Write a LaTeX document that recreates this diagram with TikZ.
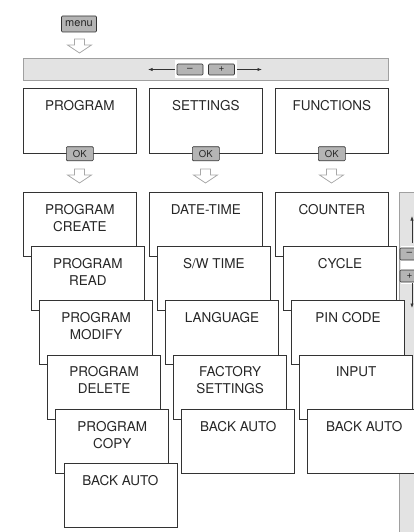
\documentclass[tikz,border=0pt]{standalone}
\usepackage{fontspec}
\setmainfont{TeX Gyre Heros}
\usetikzlibrary{arrows.meta}
\definecolor{lineC}{HTML}{333333}
\definecolor{btnfill}{HTML}{B4B4B4}
\definecolor{barfill}{HTML}{E3E3E3}
\definecolor{barline}{HTML}{A0A0A0}
\definecolor{arrowC}{HTML}{A8A8A8}
\newcommand\hollowdown[2]{%
  \draw[hollowarrow] (#1-5,#2) -- (#1+5,#2) -- (#1+5,#2+6) -- (#1+12,#2+6)
    -- (#1,#2+14) -- (#1-12,#2+6) -- (#1-5,#2+6) -- cycle;}
\begin{document}
\begin{tikzpicture}[x=1pt,y=-1pt,
  boxnode/.style={draw=lineC, line width=0.7pt, fill=white, minimum width=113pt,
    minimum height=64pt, anchor=north west, inner sep=0pt},
  lbl/.style={anchor=north, inner sep=0pt, align=center, text=black!85,
    font=\fontsize{13.5}{17}\selectfont},
  btn/.style={draw=lineC, fill=btnfill, rounded corners=1pt, inner sep=0pt,
    line width=0.6pt, text=black!85},
  hollowarrow/.style={draw=arrowC, fill=white, line width=0.7pt, line join=miter},
  tinyarrow/.style={-{Latex[length=4.5pt,width=3.2pt]}, draw=lineC, line width=0.6pt},
  grayband/.style={draw=barline, fill=barfill, line width=0.6pt, inner sep=0pt}]
\useasboundingbox (0,0) rectangle (414,532);

% menu button and arrow
\node[btn, minimum width=35pt, minimum height=16pt, font=\fontsize{11}{11}\selectfont] (menu) at (79,24) {menu};
\hollowdown{79.5}{39}

% top bar
\node[grayband, minimum width=365pt, minimum height=22pt] (bar) at (205.5,69) {};
\node[fill=white, inner sep=0pt, minimum width=62pt, minimum height=18pt] (btnbg) at (206,69.5) {};
\node[btn, minimum width=26pt, minimum height=11pt, font=\fontsize{10}{10}\selectfont] (minus) at (190,69.5) {–};
\node[btn, minimum width=26pt, minimum height=11pt, font=\fontsize{10}{10}\selectfont] (plus) at (221.5,69.5) {+};
\coordinate (lefttip) at (148,69.5);
\coordinate (righttip) at (262,69.5);
\draw[tinyarrow] (btnbg.west) -- (lefttip);
\draw[tinyarrow] (btnbg.east) -- (righttip);

% top boxes
\node[boxnode, minimum height=65pt] (prog) at (23,88) {};
\node[lbl] (progT) at ([yshift=-12pt]prog.north) {PROGRAM};
\node[boxnode, minimum height=65pt] (sett) at (149,88) {};
\node[lbl] (settT) at ([yshift=-12pt]sett.north) {SETTINGS};
\node[boxnode, minimum height=65pt] (func) at (275,88) {};
\node[lbl] (funcT) at ([yshift=-12pt]func.north) {FUNCTIONS};
\foreach \n in {prog,sett,func}{
  \node[btn, minimum width=27pt, minimum height=14pt, font=\fontsize{9.5}{9.5}\selectfont] (ok\n) at (\n.south) {OK};
}
\hollowdown{79.5}{169}
\hollowdown{205.5}{169}
\hollowdown{331.5}{169}

% right side panel
\node[grayband, minimum width=30pt, minimum height=400pt, anchor=north west] (panel) at (399,192) {};
\node[fill=white, inner sep=0pt, minimum width=28pt, minimum height=38pt, anchor=north west] (pbg) at (400.5,246) {};
\node[btn, minimum width=26pt, minimum height=12pt] (pminus) at (413,254) {};
\node[btn, minimum width=26pt, minimum height=12pt] (pplus) at (413,276) {};
\node[inner sep=0pt, text=black!85, font=\fontsize{10}{10}\selectfont] (pminusT) at (409.5,254) {–};
\node[inner sep=0pt, text=black!85, font=\fontsize{10}{10}\selectfont] (pplusT) at (409.5,276) {+};
\coordinate (uptip) at (412,216);
\coordinate (downtip) at (412,308);
\draw[tinyarrow] (412,243) -- (uptip);
\draw[tinyarrow] (412,283) -- (downtip);

% program column
\foreach \t [count=\i from 0] in {{PROGRAM\\CREATE},{PROGRAM\\READ},{PROGRAM\\MODIFY},{PROGRAM\\DELETE},{PROGRAM\\COPY},{BACK AUTO}}{
  \node[boxnode] (p\i) at (23+8.1*\i,192+54.2*\i) {};
  \node[lbl] (pT\i) at ([yshift=-12pt]p\i.north) {\t};
}
% settings column
\foreach \t [count=\i from 0] in {{DATE-TIME},{S/W TIME},{LANGUAGE},{FACTORY\\SETTINGS},{BACK AUTO}}{
  \node[boxnode] (s\i) at (149+8.1*\i,192+54.2*\i) {};
  \node[lbl] (sT\i) at ([yshift=-12pt]s\i.north) {\t};
}
% functions column
\foreach \t [count=\i from 0] in {{COUNTER},{CYCLE},{PIN CODE},{INPUT},{BACK AUTO}}{
  \node[boxnode] (f\i) at (275+8.1*\i,192+54.2*\i) {};
  \node[lbl] (fT\i) at ([yshift=-12pt]f\i.north) {\t};
}
\end{tikzpicture}
\end{document}
